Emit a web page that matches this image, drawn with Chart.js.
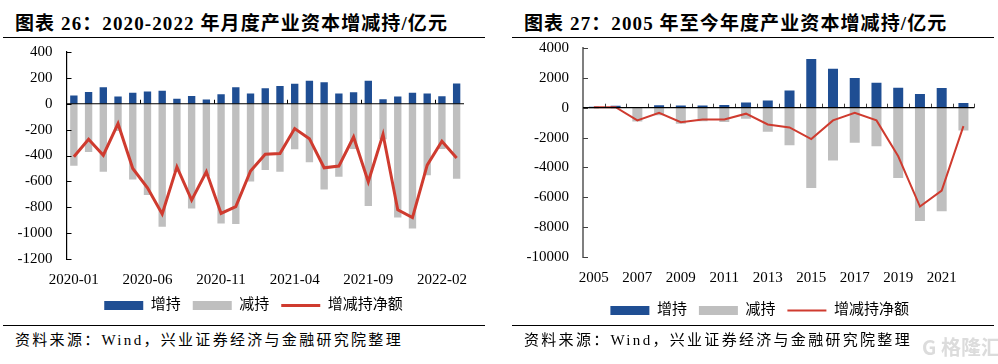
<!DOCTYPE html>
<html lang="zh-CN">
<head>
  <meta charset="UTF-8" />
  <title>产业资本增减持</title>
  <script src="https://cdn.jsdelivr.net/npm/chart.js"></script>
  <style>
    body {
      margin: 0;
      background: #fff;
      width: 998px;
      height: 364px;
      overflow: hidden;
      position: relative;
      font-family: "Liberation Serif", "Noto Sans CJK SC", serif;
      color: #000;
    }
    canvas { position: absolute; }
    .title, .source, .rule, .mark { position: absolute; white-space: nowrap; }
    .title { top: 13px; font-size: 19px; font-weight: bold; line-height: 22px; letter-spacing: 1.1px; }
    .source { top: 331px; font-size: 15px; line-height: 18px; letter-spacing: 2.3px; }
    .rule { height: 1px; background: #000; }
    .mark { left: 922px; top: 334px; font-size: 20px; line-height: 26px; color: #dcdcdc; font-family: "Noto Sans CJK SC"; font-weight: bold; }
  </style>
</head>
<body>
  <div class="title" style="left:15px">图表 26：2020-2022 年月度产业资本增减持/亿元</div>
  <div class="rule" style="left:3px;width:482px;top:37px"></div>
  <canvas id="monthChart" width="490" height="294" style="left:0;top:29px"></canvas>
  <div class="rule" style="left:3px;width:482px;top:325px"></div>
  <div class="source" style="left:15px">资料来源：Wind，兴业证券经济与金融研究院整理</div>

  <div class="title" style="left:524px">图表 27：2005 年至今年度产业资本增减持/亿元</div>
  <div class="rule" style="left:512px;width:482px;top:37px"></div>
  <canvas id="yearChart" width="478" height="303" style="left:520px;top:25px"></canvas>
  <div class="rule" style="left:512px;width:482px;top:325px"></div>
  <div class="source" style="left:524px">资料来源：Wind，兴业证券经济与金融研究院整理</div>
  <div class="mark">G 格隆汇</div>

  <script>
    const seriesNames = ['增持', '减持', '增减持净额'];

    // 图表 26 - monthly
    const months = ['2020-01','2020-02','2020-03','2020-04','2020-05','2020-06','2020-07','2020-08','2020-09','2020-10','2020-11','2020-12',
      '2021-01','2021-02','2021-03','2021-04','2021-05','2021-06','2021-07','2021-08','2021-09','2021-10','2021-11','2021-12',
      '2022-01','2022-02','2022-03'];
    const monthBuy = [64, 90, 128, 56, 85, 95, 100, 38, 60, 33, 74, 128, 79, 120, 138, 154, 177, 166, 79, 89, 177, 35, 56, 85, 79, 58, 156];
    const monthSell = [-480, -372, -526, -210, -585, -705, -950, -526, -810, -560, -925, -930, -600, -513, -526, -352, -452, -663, -565, -350, -790, -275, -880, -965, -552, -350, -580];
    const monthNet = [-410, -275, -398, -154, -500, -650, -852, -488, -745, -526, -848, -795, -520, -390, -385, -192, -270, -495, -482, -257, -603, -236, -820, -880, -475, -290, -420];

    // 图表 27 - yearly
    const years = ['2005','2006','2007','2008','2009','2010','2011','2012','2013','2014','2015','2016','2017','2018','2019','2020','2021','2022'];
    const yearBuy = [60, 130, 30, 170, 150, 150, 180, 350, 490, 1160, 3260, 2617, 1990, 1675, 1340, 915, 1315, 310];
    const yearSell = [-50, -50, -920, -500, -1075, -900, -965, -740, -1610, -2510, -5370, -3535, -2350, -2575, -4700, -7585, -6940, -1520];
    const yearNet = [30, 30, -850, -335, -965, -785, -785, -400, -1120, -1320, -2100, -850, -335, -850, -3250, -6620, -5550, -1235];

    const blue = '#1f4e93';
    const grey = '#bfbfbf';
    const red = '#cf3b2f';
    const font = '"Liberation Serif", "Noto Sans CJK SC", serif';

    // inward y ticks, zero line and the upward x ticks, all from the chart's scales
    const axisMarks = {
      id: 'axisMarks',
      afterLayout(chart, args, o) {
        // legend is centred under the whole panel, not the plot
        chart.legend.left += o.legendShift;
        chart.legend.right += o.legendShift;
      },
      afterDatasetsDraw(chart, args, o) {
        const { ctx, scales: { x, y } } = chart;
        const zero = y.getPixelForValue(0);
        const step = x.getPixelForValue(1) - x.getPixelForValue(0);
        ctx.save();
        ctx.strokeStyle = o.color;
        ctx.lineWidth = 1;
        y.ticks.forEach(t => {
          const py = Math.round(y.getPixelForValue(t.value)) + 0.5;
          ctx.beginPath();
          ctx.moveTo(x.left, py);
          ctx.lineTo(x.left + 5, py);
          ctx.stroke();
        });
        for (let i = 0; i <= x.ticks.length - 1 + (o.every === 1 ? 1 : 0); i += o.every) {
          if (i === 0) continue;
          const px = Math.round(x.getPixelForValue(0) + (i - 0.5) * step) + 0.5;
          ctx.beginPath();
          ctx.moveTo(px, zero);
          ctx.lineTo(px, zero - 4);
          ctx.stroke();
        }
        ctx.strokeStyle = '#000';
        ctx.lineWidth = 1.2;
        ctx.beginPath();
        ctx.moveTo(x.left, zero);
        ctx.lineTo(x.right, zero);
        ctx.stroke();
        ctx.restore();
      }
    };

    function drawChart(id, labels, buy, sell, net, cfg) {
      new Chart(document.getElementById(id), {
        type: 'bar',
        plugins: [axisMarks],
        data: {
          labels: labels,
          datasets: [
            { type: 'line', label: seriesNames[2], data: net, borderColor: red, borderWidth: cfg.lineWidth, pointRadius: 0, tension: 0, order: 0 },
            { label: seriesNames[0], data: buy, backgroundColor: blue, order: 1 },
            { label: seriesNames[1], data: sell, backgroundColor: grey, order: 2 }
          ]
        },
        options: {
          responsive: false,
          animation: false,
          layout: { padding: { top: 0, right: cfg.right, bottom: 0, left: 0 } },
          datasets: { bar: { grouped: false, categoryPercentage: 1, barPercentage: cfg.barPct } },
          plugins: {
            tooltip: { enabled: false },
            axisMarks: { every: cfg.every, color: cfg.tickColor, legendShift: cfg.legendShift },
            legend: {
              position: 'bottom',
              labels: {
                usePointStyle: true,
                pointStyleWidth: 39,
                boxHeight: 9,
                padding: 12,
                color: '#000',
                font: { family: font, size: 15 },
                generateLabels: () => [
                  { text: seriesNames[0], fillStyle: blue, strokeStyle: blue, lineWidth: 0, pointStyle: 'rect' },
                  { text: seriesNames[1], fillStyle: grey, strokeStyle: grey, lineWidth: 0, pointStyle: 'rect' },
                  { text: seriesNames[2], fillStyle: red, strokeStyle: red, lineWidth: cfg.lineWidth, pointStyle: 'line' }
                ]
              }
            }
          },
          scales: {
            x: {
              grid: { display: false },
              border: { display: false },
              afterFit: s => { s.height = cfg.xHeight; },
              ticks: {
                autoSkip: false,
                maxRotation: 0,
                padding: 4,
                color: '#000',
                font: { family: font, size: 15 },
                callback: (v, i) => i % cfg.labelEvery === 0 ? labels[i] : ''
              }
            },
            y: {
              min: cfg.min,
              max: cfg.max,
              afterFit: s => { s.width = cfg.yWidth; },
              grid: { display: false, drawTicks: false },
              border: { display: true, color: cfg.axisColor, width: cfg.axisWidth },
              ticks: {
                stepSize: cfg.stepSize,
                padding: 14,
                color: '#000',
                font: { family: font, size: 15 },
                callback: v => String(v)
              }
            }
          }
        }
      });
    }

    drawChart('monthChart', months, monthBuy, monthSell, monthNet, {
      min: -1200, max: 400, stepSize: 200, labelEvery: 5, every: 5,
      barPct: 0.5, lineWidth: 3, tickColor: '#000', axisColor: '#000', axisWidth: 1.2,
      yWidth: 66.5, xHeight: 27, right: 26, legendShift: 21.5
    });

    drawChart('yearChart', years, yearBuy, yearSell, yearNet, {
      min: -10000, max: 4000, stepSize: 2000, labelEvery: 2, every: 1,
      barPct: 0.46, lineWidth: 2, tickColor: '#404040', axisColor: '#7f7f7f', axisWidth: 2,
      yWidth: 63, xHeight: 34, right: 23.7, legendShift: 12.5
    });
  </script>
</body>
</html>
